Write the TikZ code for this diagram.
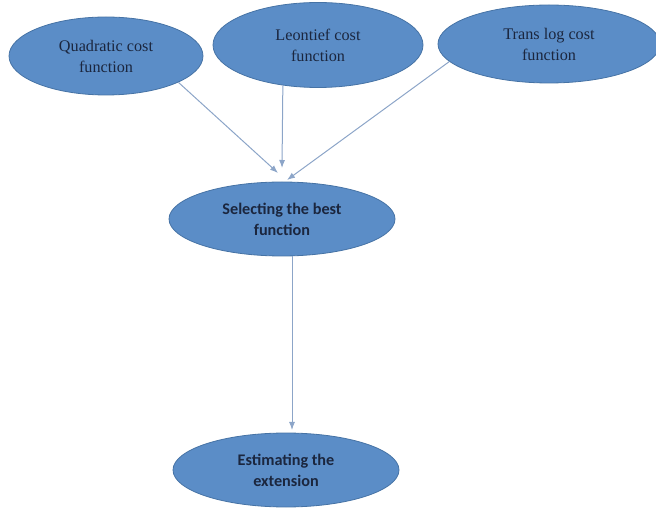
\documentclass[tikz,border=0pt]{standalone}
\usepackage{fontspec}
\setmainfont{Liberation Serif}
\newfontfamily\calfont{Carlito}
\usetikzlibrary{arrows.meta, shapes.geometric}
\definecolor{ovalblue}{RGB}{91,141,199}
\definecolor{ovaledge}{RGB}{70,115,165}
\definecolor{inkblue}{RGB}{27,38,62}
\definecolor{linkgrey}{RGB}{140,165,200}
\tikzset{
  oval/.style={ellipse, fill=ovalblue, draw=ovaledge, line width=0.8pt,
    inner sep=0pt, align=center, text=inkblue},
  costoval/.style={oval, font=\fontsize{16.2}{21}\selectfont},
  stepoval/.style={oval, font=\calfont\bfseries\fontsize{16.2}{21}\selectfont},
  link/.style={draw=linkgrey, line width=1pt, -{Latex[length=8pt, width=6pt]}}
}

\begin{document}
\begin{tikzpicture}[x=1pt, y=-1pt]
\useasboundingbox (0,0) rectangle (656,510);

% cost functions
\node[costoval, minimum width=194pt, minimum height=78pt] (quad) at (106,56)
  {Quadratic cost\\function};
\node[costoval, minimum width=210pt, minimum height=85pt] (leon) at (318,45)
  {Leontief cost\\function};
\node[costoval, minimum width=222pt, minimum height=78pt] (trans) at (549,44)
  {Trans log cost\\function};

% steps
\node[stepoval, minimum width=226pt, minimum height=74pt] (select) at (282,219)
  {Selecting the best\\function};
\node[stepoval, minimum width=226pt, minimum height=74pt] (estim) at (286,470)
  {Estimating the\\extension};

\coordinate (tipQ) at (278,173);
\coordinate (tipL) at (282,168);
\coordinate (tipT) at (287,180);
\coordinate (topE) at (292,430);

\draw[link] (quad.340) -- (tipQ);
\draw[link] (leon.229) -- (tipL);
\draw[link] (trans.190) -- (tipT);
\draw[link] (topE |- select.south) -- (topE);
\end{tikzpicture}
\end{document}
